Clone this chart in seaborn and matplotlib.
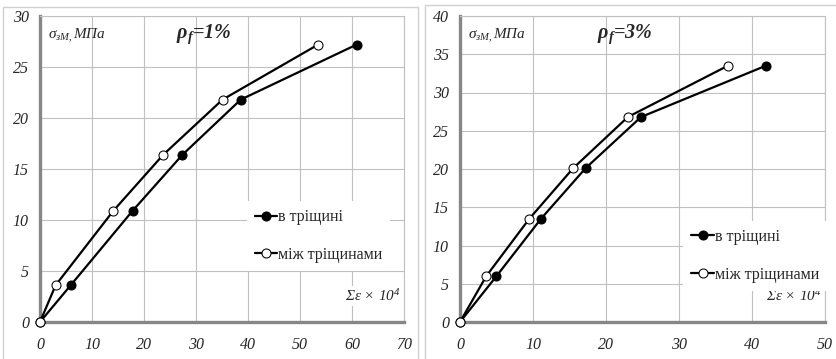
import matplotlib
matplotlib.use('Agg')
import matplotlib.pyplot as plt
from matplotlib.patches import Rectangle
import seaborn as sns
import pandas as pd

# strain (x10^4) and stress (MPa)
stress_1 = [0, 3.6, 10.9, 16.4, 21.8, 27.2]
eps_crack_1 = [0, 5.9, 17.8, 27.4, 38.6, 60.9]
eps_between_1 = [0, 3.0, 14.1, 23.7, 35.1, 53.5]

stress_3 = [0, 6.0, 13.5, 20.1, 26.8, 33.5]
eps_crack_3 = [0, 5.0, 11.1, 17.2, 24.8, 41.9]
eps_between_3 = [0, 3.6, 9.5, 15.5, 23.0, 36.7]

label_crack = 'в тріщині'
label_between = 'між тріщинами'
panel_titles = [r'$\mathbf{\rho_{f}}$=1%', r'$\mathbf{\rho_{f}}$=3%']
y_label = r'$\sigma_{зМ,}$МПа'
x_label = r'Σε × 10$^{4}$'

sns.set_style('white')
plt.rcParams['font.family'] = ['Liberation Serif', 'DejaVu Serif']
plt.rcParams['mathtext.fontset'] = 'custom'
plt.rcParams['mathtext.rm'] = 'Liberation Serif:italic'
plt.rcParams['mathtext.it'] = 'Liberation Serif:italic'
plt.rcParams['mathtext.bf'] = 'Liberation Serif:bold:italic'

W, H = 837, 359
fig = plt.figure(figsize=(W / 100, H / 100), dpi=100)

# panel frames
fig.patches.append(Rectangle((3 / W, -0.1), (418 - 3) / W, 1.1 - 7 / H, transform=fig.transFigure,
                             fill=False, edgecolor='#d0d0d0', linewidth=1.0))
fig.patches.append(Rectangle((425 / W, -0.1), 0.6, 1.1 - 5 / H, transform=fig.transFigure,
                             fill=False, edgecolor='#d0d0d0', linewidth=1.0))


def make_axes(x0, x1):
    return fig.add_axes([x0 / W, (H - 322) / H, (x1 - x0) / W, 306 / H])


ax1 = make_axes(40, 404)
ax2 = make_axes(460, 825)

panels = [
    (ax1, stress_1, eps_crack_1, eps_between_1, 70, 30, panel_titles[0], (0.569, 0.395)),
    (ax2, stress_3, eps_crack_3, eps_between_3, 50, 40, panel_titles[1], (0.612, 0.33)),
]

for ax, stress, eps_c, eps_b, xmax, ymax, title, leg_pos in panels:
    df_c = pd.DataFrame({'eps': eps_c, 'sigma': stress})
    df_b = pd.DataFrame({'eps': eps_b, 'sigma': stress})
    sns.lineplot(data=df_c, x='eps', y='sigma', ax=ax, color='black', linewidth=1.6,
                 marker='o', markersize=6.5, markerfacecolor='black', markeredgecolor='black',
                 sort=False, estimator=None, label=label_crack, clip_on=False, zorder=5)
    sns.lineplot(data=df_b, x='eps', y='sigma', ax=ax, color='black', linewidth=1.6,
                 marker='o', markersize=6.5, markerfacecolor='white', markeredgecolor='black',
                 sort=False, estimator=None, label=label_between, clip_on=False, zorder=6)

    ax.set_xlim(0, xmax)
    ax.set_ylim(0, ymax)
    ax.set_xticks(range(0, xmax + 1, 10))
    ax.set_yticks(range(0, ymax + 1, 5))
    ax.grid(True, color='#c0c0c0', linewidth=0.8)
    ax.set_axisbelow(True)
    ax.set_xlabel(None)
    ax.set_ylabel(None)
    for s in ['top', 'right']:
        ax.spines[s].set_color('#c0c0c0')
        ax.spines[s].set_linewidth(0.8)
    for s in ['left', 'bottom']:
        ax.spines[s].set_color('#878787')
        ax.spines[s].set_linewidth(2.4)
    ax.tick_params(axis='both', which='both', length=4, width=0.8, color='#878787',
                   labelsize=11.5, pad=4)
    ax.tick_params(axis='x', pad=7)
    for lab in ax.get_xticklabels() + ax.get_yticklabels():
        lab.set_fontstyle('italic')

    ax.text(0.022, 0.935, y_label, transform=ax.transAxes, fontsize=11,
            fontstyle='italic', va='center', ha='left')
    ax.text(0.375, 0.94, title, transform=ax.transAxes, fontsize=14.5,
            fontstyle='italic', fontweight='bold', va='center', ha='left')
    ax.text(0.99, 0.085, x_label, transform=ax.transAxes, fontsize=11,
            fontstyle='italic', va='center', ha='right',
            bbox=dict(facecolor='white', edgecolor='none', pad=1.5), zorder=4)

    leg = ax.legend(loc='upper left', bbox_to_anchor=leg_pos, frameon=True,
                    fancybox=False, edgecolor='none', facecolor='white', framealpha=1,
                    fontsize=11.5, handlelength=1.4, handletextpad=0.05,
                    labelspacing=1.35, borderpad=0.5, borderaxespad=0)
    leg.set_zorder(7)

plt.savefig('out.png', dpi=100)
